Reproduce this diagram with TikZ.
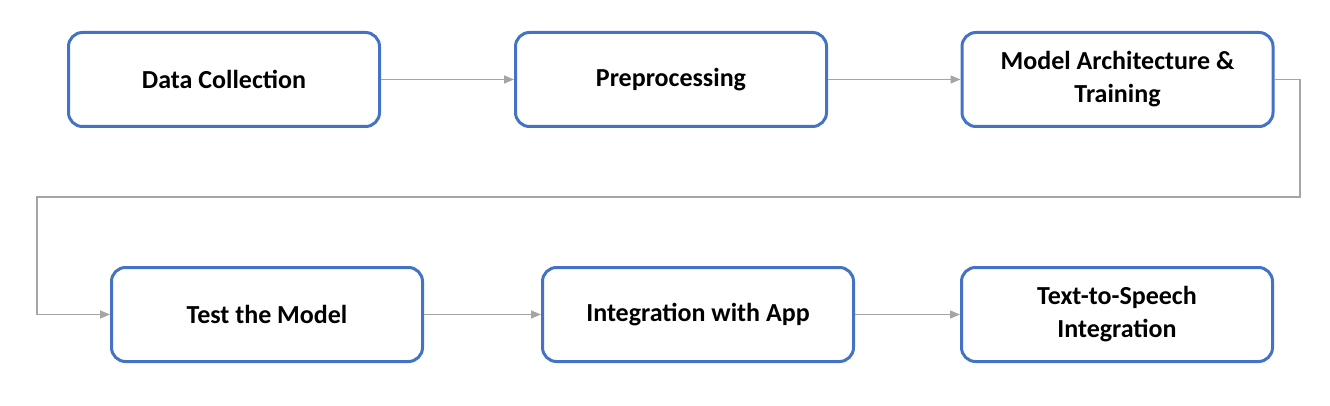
\documentclass[tikz,border=0pt]{standalone}
\usepackage{fontspec}
\setmainfont{Carlito}
\usetikzlibrary{arrows.meta}
\definecolor{boxblue}{HTML}{4472C4}
\definecolor{linegray}{HTML}{A5A5A5}
\tikzset{
  stepbox/.style={draw=boxblue, line width=3pt, rounded corners=14pt, fill=white,
    minimum width=311pt, minimum height=94pt, align=center, inner sep=0pt,
    font=\fontsize{26}{33}\selectfont\bfseries},
  conn/.style={draw=linegray, line width=1.6pt, -{Triangle[length=10pt,width=8pt]}}
}
\begin{document}
\begin{tikzpicture}[x=1pt,y=-1pt]
\useasboundingbox (0,0) rectangle (1330,406);
\node[stepbox] (a) at (224,79.5) {Data Collection};
\node[stepbox] (b) at (671,79.5) {Preprocessing};
\node[stepbox] (c) at (1117.5,79.5) {Model Architecture \&\\Training};
\node[stepbox] (d) at (267,314.5) {Test the Model};
\node[stepbox] (e) at (698,314.5) {Integration with App};
\node[stepbox] (f) at (1117,314.5) {Text-to-Speech\\Integration};
\coordinate (r1) at (1300,79.5);
\coordinate (r2) at (1300,197);
\coordinate (l1) at (37,197);
\coordinate (l2) at (37,314.5);
\draw[conn] (a.east) -- (b.west);
\draw[conn] (b.east) -- (c.west);
\draw[conn] (c.east) -- (r1) -- (r2) -- (l1) -- (l2) -- (d.west);
\draw[conn] (d.east) -- (e.west);
\draw[conn] (e.east) -- (f.west);
\end{tikzpicture}
\end{document}
